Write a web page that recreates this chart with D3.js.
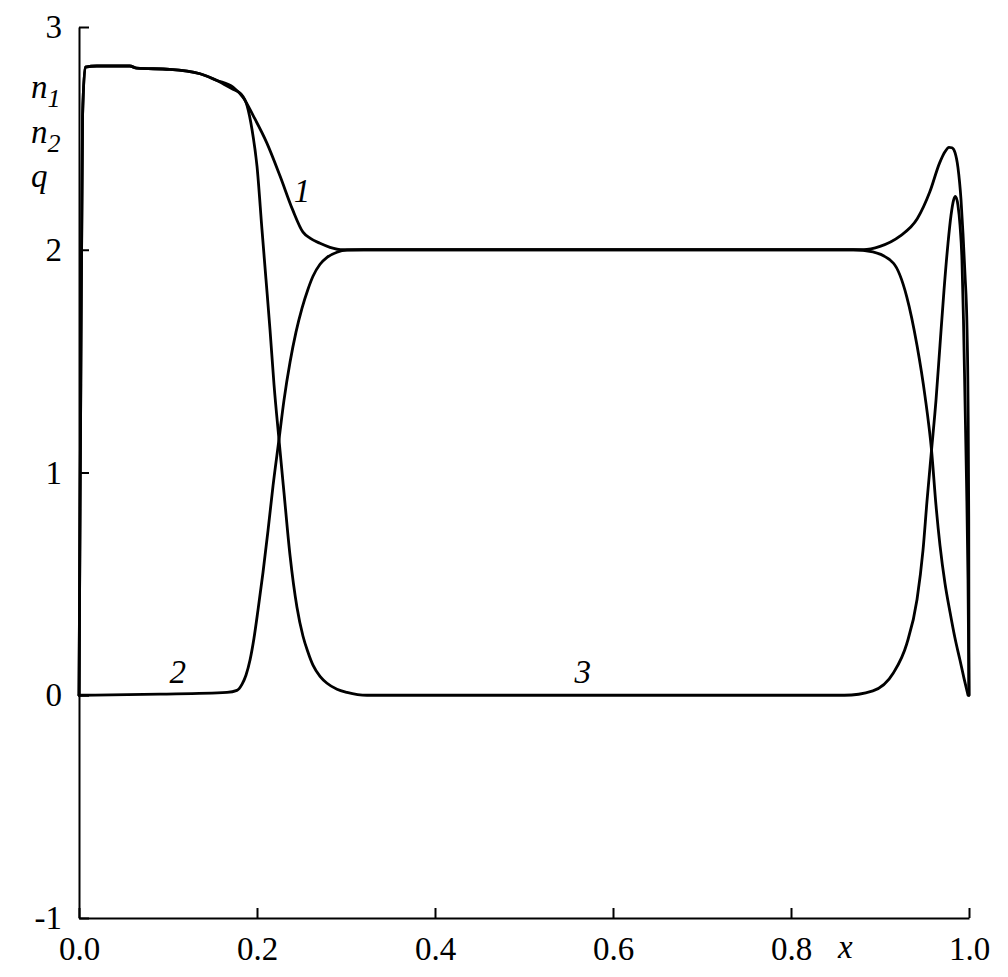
<!DOCTYPE html>
<html>
<head>
<meta charset="utf-8">
<script src="https://cdn.jsdelivr.net/npm/d3@7"></script>
<style>
  html, body { margin: 0; padding: 0; background: #fff; }
  svg { display: block; }
  svg text { font-family: "Liberation Serif", serif !important; fill: #000; }
</style>
</head>
<body>
<svg id="chart" width="1008" height="977"></svg>
<script>
// ---- data ----
const xTicks = [0.0, 0.2, 0.4, 0.6, 0.8, 1.0];
const xTickLabels = ["0.0", "0.2", "0.4", "0.6", "0.8", "1.0"];
const yTicks = [-1, 0, 1, 2, 3];
const yTickLabels = ["-1", "0", "1", "2", "3"];

// curve 1
const x1 = [0, 0.002, 0.004, 0.007, 0.02, 0.057, 0.065, 0.102, 0.136, 0.155, 0.173, 0.185, 0.196, 0.211, 0.226, 0.240, 0.2517, 0.2596, 0.2708, 0.282, 0.2966, 0.32, 0.5, 0.7, 0.86, 0.881, 0.9, 0.922, 0.942, 0.956, 0.967, 0.9730, 0.9775, 0.9809, 0.9843, 0.9876, 0.9910, 0.9933, 0.9955, 0.9978, 0.9989, 0.9997, 1.0];
const y1 = [0, 1.4, 2.6, 2.82, 2.825, 2.825, 2.815, 2.81, 2.79, 2.76, 2.73, 2.68, 2.60, 2.48, 2.33, 2.18, 2.079, 2.052, 2.029, 2.011, 2.0, 2.0, 2.0, 2.0, 2.0, 2.0, 2.015, 2.06, 2.14, 2.26, 2.39, 2.44, 2.46, 2.458, 2.436, 2.369, 2.226, 2.069, 1.89, 1.643, 1.329, 0.79, 0];

// curve 3
const x3 = [0, 0.002, 0.004, 0.007, 0.02, 0.057, 0.065, 0.102, 0.136, 0.155, 0.173, 0.182, 0.189, 0.1944, 0.2, 0.2056, 0.2101, 0.2146, 0.2191, 0.2247, 0.2303, 0.2371, 0.2449, 0.2517, 0.2573, 0.2629, 0.2708, 0.2787, 0.2899, 0.3011, 0.3236, 0.5, 0.7, 0.86, 0.892, 0.915, 0.930, 0.9416, 0.9483, 0.9528, 0.9579, 0.9629, 0.9674, 0.9719, 0.9764, 0.9798, 0.9826, 0.9848, 0.9876, 0.9899, 0.9921, 0.9938, 0.9955, 0.9972, 0.9989, 1.0];
const y3 = [0, 1.4, 2.6, 2.82, 2.825, 2.825, 2.815, 2.81, 2.79, 2.76, 2.72, 2.70, 2.645, 2.54, 2.375, 2.09, 1.867, 1.642, 1.395, 1.148, 0.911, 0.628, 0.395, 0.265, 0.193, 0.135, 0.085, 0.054, 0.027, 0.013, 0, 0, 0, 0, 0.02, 0.1, 0.23, 0.43, 0.65, 0.871, 1.10, 1.324, 1.571, 1.818, 2.029, 2.155, 2.222, 2.24, 2.2, 2.11, 1.953, 1.684, 1.325, 0.965, 0.516, 0];

// curve 2
const x2 = [0, 0.091, 0.1663, 0.1775, 0.1831, 0.1876, 0.1921, 0.1966, 0.2011, 0.2067, 0.2124, 0.218, 0.2247, 0.2303, 0.2371, 0.2438, 0.2506, 0.2573, 0.2629, 0.2708, 0.2787, 0.2899, 0.3011, 0.32, 0.5, 0.7, 0.87, 0.892, 0.915, 0.930, 0.9416, 0.9506, 0.9579, 0.9629, 0.9674, 0.9730, 0.9787, 0.9843, 0.9899, 0.9944, 0.9989];
const y2 = [0, 0.005, 0.013, 0.022, 0.049, 0.09, 0.157, 0.256, 0.382, 0.55, 0.74, 0.94, 1.148, 1.324, 1.495, 1.63, 1.738, 1.823, 1.881, 1.935, 1.966, 1.989, 1.998, 2.0, 2.0, 2.0, 2.0, 1.99, 1.94, 1.79, 1.57, 1.342, 1.10, 0.853, 0.673, 0.503, 0.373, 0.256, 0.157, 0.076, 0];

const curveNames = ["1", "2", "3"];

const FONT = '"Liberation Serif", serif';

// ---- drawing ----
const svg = d3.select("#chart");
svg.append("rect").attr("width", 1008).attr("height", 977).attr("fill", "#fff");

const x = d3.scaleLinear().domain([0, 1]).range([79, 969]);
const y = d3.scaleLinear().domain([-1, 3]).range([918, 27]);

const FS = 33;

// y axis
const yAxis = d3.axisLeft(y)
  .tickValues(yTicks)
  .tickFormat((d, i) => yTickLabels[i])
  .tickSizeInner(-10)
  .tickSizeOuter(0)
  .tickPadding(17);
const gy = svg.append("g").attr("transform", `translate(${x(0)},0)`).call(yAxis);

// x axis
const xAxis = d3.axisBottom(x)
  .tickValues(xTicks)
  .tickFormat((d, i) => xTickLabels[i])
  .tickSizeInner(-10)
  .tickSizeOuter(0)
  .tickPadding(19);
const gx = svg.append("g").attr("transform", `translate(0,${y(-1)})`).call(xAxis);

[gx, gy].forEach(g => {
  g.attr("font-family", FONT).attr("font-size", FS);
  g.select(".domain").attr("stroke", "#000").attr("stroke-width", 2);
  g.selectAll(".tick line").attr("stroke", "#000").attr("stroke-width", 2);
  g.selectAll(".tick text")
    .attr("font-family", FONT)
    .style("font-family", FONT)
    .style("font-size", FS + "px")
    .attr("fill", "#000");
});

// curves
const line = d3.line()
  .x(d => x(d[0]))
  .y(d => y(d[1]))
  .curve(d3.curveMonotoneX);

const series = [
  d3.zip(x1, y1),
  d3.zip(x2, y2),
  d3.zip(x3, y3)
];

svg.append("g").selectAll("path")
  .data(series)
  .join("path")
  .attr("d", line)
  .attr("fill", "none")
  .attr("stroke", "#000")
  .attr("stroke-width", 2.8)
  .attr("stroke-linejoin", "round")
  .attr("stroke-linecap", "round");

// curve labels
const labelPos = [[0.2506, 2.213], [0.111, 0.054], [0.566, 0.054]];
svg.append("g").selectAll("text")
  .data(curveNames)
  .join("text")
  .attr("x", (d, i) => x(labelPos[i][0]))
  .attr("y", (d, i) => y(labelPos[i][1]))
  .attr("text-anchor", "middle")
  .style("font-family", FONT)
  .style("font-style", "italic")
  .style("font-size", FS + "px")
  .text(d => d);

// y-axis title: n1, n2, q
function subLabel(base, sub, px, py) {
  const t = svg.append("text")
    .attr("x", px).attr("y", py)
    .style("font-family", FONT)
    .style("font-style", "italic")
    .style("font-size", FS + "px");
  t.append("tspan").text(base);
  if (sub) {
    t.append("tspan").attr("dy", 9).style("font-size", "26px").text(sub);
  }
}
subLabel("n", "1", 31, 98);
subLabel("n", "2", 31, 143);
subLabel("q", null, 31, 187);

// x-axis title
svg.append("text")
  .attr("x", x(0.861))
  .attr("y", 958)
  .attr("text-anchor", "middle")
  .style("font-family", FONT)
  .style("font-style", "italic")
  .style("font-size", FS + "px")
  .text("x");
</script>
</body>
</html>
